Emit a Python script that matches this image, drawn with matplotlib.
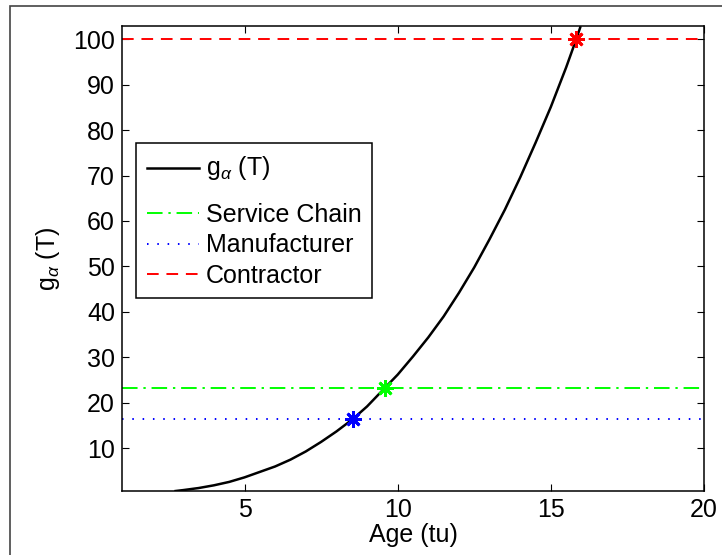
import matplotlib
matplotlib.use('Agg')
import matplotlib.pyplot as plt
from matplotlib.patches import Rectangle

plt.rcParams['font.family'] = ['Liberation Sans', 'DejaVu Sans']
plt.rcParams['mathtext.fontset'] = 'custom'
plt.rcParams['mathtext.rm'] = 'Liberation Sans'
plt.rcParams['mathtext.it'] = 'Liberation Sans:italic'

# curve
age = [2.75, 3.0, 3.5, 4.0, 4.5, 5.0, 5.5, 6.0, 6.5, 7.0, 7.5, 8.0, 8.53, 9.0,
       9.57, 10.0, 10.5, 11.0, 11.5, 12.0, 12.5, 13.0, 13.5, 14.0, 14.5, 15.0,
       15.5, 15.83, 15.96]
g_alpha = [0.6, 0.8, 1.25, 1.85, 2.6, 3.6, 4.8, 6.0, 7.5, 9.3, 11.4, 13.7, 16.4,
           19.2, 23.2, 26.2, 30.2, 34.4, 39.0, 44.2, 49.8, 56.0, 62.5, 69.6, 77.2,
           85.1, 93.8, 100.0, 102.6]

# horizontal levels and their crossing points
levels = {'Service Chain': 23.3, 'Manufacturer': 16.4, 'Contractor': 100.0}
cross_age = {'Service Chain': 9.57, 'Manufacturer': 8.53, 'Contractor': 15.83}
colors = {'Service Chain': (0, 1, 0), 'Manufacturer': (0, 0, 1), 'Contractor': (1, 0, 0)}
styles = {'Service Chain': (0, (8, 3, 1.2, 3)), 'Manufacturer': (0, (0.8, 4.5)),
          'Contractor': (0, (6, 4))}

xlim = (1, 20)
ylim = (0.6, 102.9)
xticks = [5, 10, 15, 20]
yticks = list(range(10, 101, 10))

fig = plt.figure(figsize=(7.22, 5.55), dpi=100)
ax = fig.add_axes([122 / 722, 1 - 491 / 555, (704 - 122) / 722, (491 - 26) / 555])

ax.plot(age, g_alpha, color='k', linewidth=1.8, label=r'g$_\alpha$ (T)')
for name in ['Service Chain', 'Manufacturer', 'Contractor']:
    ax.plot(xlim, [levels[name]] * 2, color=colors[name], linestyle=styles[name],
            linewidth=1.4, label=name)
for name in ['Manufacturer', 'Service Chain', 'Contractor']:
    ax.plot([cross_age[name]], [levels[name]], marker=(8, 2, 0), markersize=12,
            markeredgewidth=2, color=colors[name], linestyle='none')

ax.set_xlim(xlim)
ax.set_ylim(ylim)
ax.set_xticks(xticks)
ax.set_yticks(yticks)
ax.tick_params(direction='in', top=True, right=True, length=5, width=0.8,
               labelsize=18, pad=5)
for sp in ax.spines.values():
    sp.set_linewidth(1.1)
ax.set_xlabel('Age (tu)', fontsize=18, labelpad=1)
ax.set_ylabel(r'g$_\alpha$ (T)', fontsize=18, labelpad=8)

leg = ax.legend(loc='upper left', bbox_to_anchor=(136 / 722, 1 - 143 / 555),
                bbox_transform=fig.transFigure, borderaxespad=0, fontsize=18,
                fancybox=False, framealpha=1, edgecolor='k', handlelength=2.1,
                handletextpad=0.28, labelspacing=0.25, borderpad=0.42)
leg.get_frame().set_linewidth(1.1)
# the first entry sits in a taller row in the original
leg.get_texts()[0].set_text('g$_\\alpha$ (T)\n')
leg.get_texts()[0].set_linespacing(0.55)
h0 = leg.legend_handles[0]
h0.set_ydata([y + 6 for y in h0.get_ydata()])

# outer frame of the original figure, cut at right and bottom
fig.add_artist(Rectangle((10 / 722, -0.5), 2, 0.5 + 1 - 6 / 555, fill=False,
                         edgecolor='#444444', linewidth=1.2, transform=fig.transFigure))

plt.savefig('out.png', dpi=100)
